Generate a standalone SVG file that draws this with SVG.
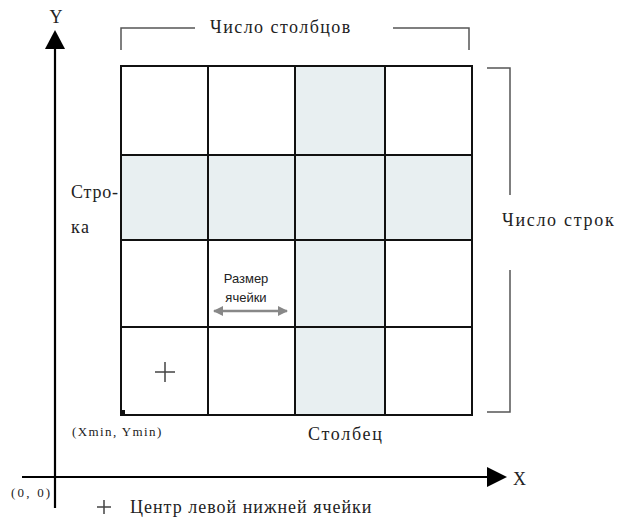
<svg xmlns="http://www.w3.org/2000/svg" width="619" height="524" viewBox="0 0 619 524">
<style>
.serif{font-family:"Liberation Serif","Times New Roman",serif;fill:#222}
.sans{font-family:"Liberation Sans",Arial,sans-serif;fill:#222}
.grid{stroke:#111;stroke-width:2;fill:none}
.br{stroke:#555;stroke-width:1.5;fill:none}
.shade{fill:#e8eff1}
.axis{stroke:#000;stroke-width:2.2;fill:none}
</style>
<defs>
<marker id="gh" viewBox="0 0 10 10" refX="9" refY="5" markerWidth="10" markerHeight="10" markerUnits="userSpaceOnUse" orient="auto-start-reverse">
<path d="M0,0 L10,5 L0,10 z" fill="#888"/>
</marker>
</defs>
<rect width="619" height="524" fill="#fff"/>
<g id="grid">
<rect class="shade" x="295" y="66" width="90" height="349"/>
<rect class="shade" x="121" y="155" width="351" height="85"/>
<rect class="grid" x="121" y="66" width="351" height="349"/>
<path class="grid" d="M208,66V415M295,66V415M385,66V415M121,155H472M121,240H472M121,327H472"/>
<rect x="121" y="410" width="4" height="4" fill="#111"/>
</g>
<g id="axes">
<path class="axis" d="M55,48V508M22,477H488"/>
<path d="M55,30 L45,49 L65,49 z" fill="#000"/>
<path d="M507,477 L487,467 L487,487 z" fill="#000"/>
<text class="serif" x="56" y="23" font-size="18" text-anchor="middle">Y</text>
<text class="serif" x="513" y="485" font-size="18">X</text>
<text class="serif" x="11" y="497" font-size="13" letter-spacing="2.2">(0, 0)</text>
</g>
<g id="columns-bracket">
<path class="br" d="M121,50V28H195M393,28H469V50"/>
<text class="serif" x="210" y="33" font-size="18" letter-spacing="1.45">Число столбцов</text>
</g>
<g id="rows-bracket">
<path class="br" d="M487,68H510V195M510,270V412H487"/>
<text class="serif" x="502" y="226" font-size="18" letter-spacing="1.7">Число строк</text>
</g>
<g id="row-label">
<text class="serif" x="71" y="198" font-size="18" letter-spacing="0.8">Стро-</text>
<text class="serif" x="71" y="233" font-size="18" letter-spacing="1.5">ка</text>
</g>
<g id="cell-size">
<text class="sans" x="246" y="283" font-size="13" text-anchor="middle">Размер</text>
<text class="sans" x="246" y="302" font-size="13" text-anchor="middle">ячейки</text>
<line x1="214" y1="311" x2="287" y2="311" stroke="#888" stroke-width="2.5" marker-start="url(#gh)" marker-end="url(#gh)"/>
</g>
<g id="origin-cell">
<path d="M155,372H175M165,362V382" stroke="#444" stroke-width="1.5"/>
<text class="serif" x="72" y="436" font-size="13" letter-spacing="1.4">(Xmin, Ymin)</text>
</g>
<g id="column-label">
<text class="serif" x="308" y="440" font-size="18" letter-spacing="1.7">Столбец</text>
</g>
<g id="legend">
<path d="M97,507H111M104,500V514" stroke="#444" stroke-width="1.5"/>
<text class="serif" x="130" y="513" font-size="18" letter-spacing="1">Центр левой нижней ячейки</text>
</g>
</svg>
